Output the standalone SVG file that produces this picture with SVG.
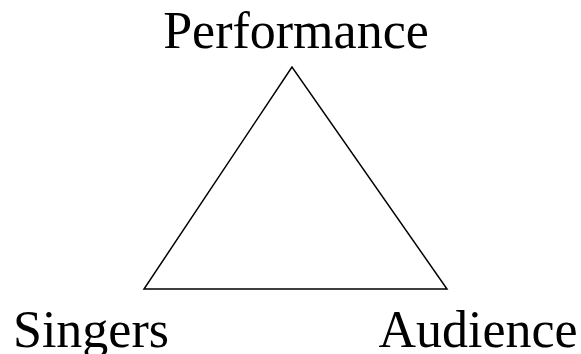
<svg xmlns="http://www.w3.org/2000/svg" width="581" height="354" viewBox="0 0 581 354">
<style>
text{font-family:"Liberation Serif","Times New Roman",serif;font-size:52px;fill:#000}
.edge{fill:none;stroke:#000;stroke-width:1.5}
</style>
<rect width="581" height="354" fill="#fff"/>
<g id="connectors">
<path class="edge" d="M292,67 L144,289 L447,289 Z"/>
</g>
<g id="performance"><text x="296" y="48" text-anchor="middle">Performance</text></g>
<g id="singers"><text x="91" y="347" text-anchor="middle">Singers</text></g>
<g id="audience"><text x="478" y="347" text-anchor="middle">Audience</text></g>
</svg>
